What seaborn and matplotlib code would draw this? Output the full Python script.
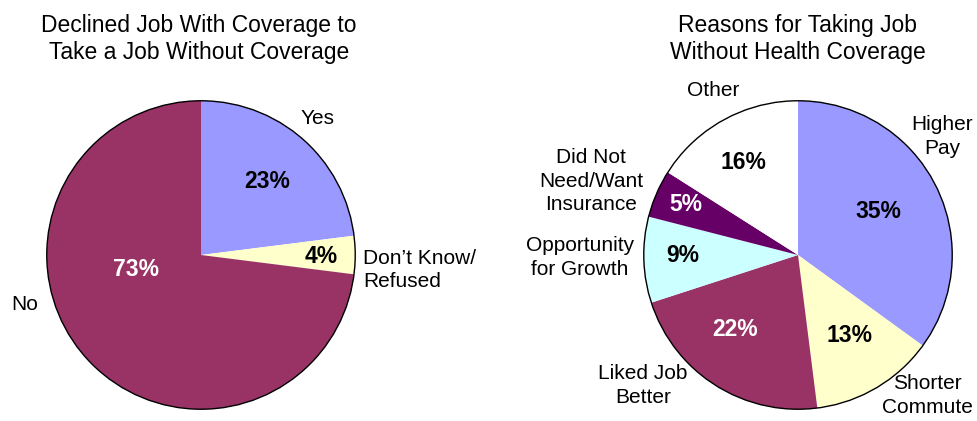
import matplotlib
matplotlib.use("Agg")
import matplotlib.pyplot as plt
from matplotlib.patches import Circle
import seaborn as sns

sns.set_theme(style="white")
plt.rcParams["font.family"] = ["Liberation Sans", "DejaVu Sans"]
plt.rcParams["text.color"] = "black"

# Left pie: declined a job with coverage
left_title = "Declined Job With Coverage to\nTake a Job Without Coverage"
left_labels = ["Yes", "Don\u2019t Know/\nRefused", "No"]
left_values = [23, 4, 73]
left_colors = ["#9999FF", "#FFFFCC", "#993366"]
left_pct_colors = ["black", "black", "white"]

# Right pie: reasons for taking the job
right_title = "Reasons for Taking Job\nWithout Health Coverage"
right_labels = ["Higher\nPay", "Shorter\nCommute", "Liked Job\nBetter",
                "Opportunity\nfor Growth", "Did Not\nNeed/Want\nInsurance", "Other"]
right_values = [35, 13, 22, 9, 5, 16]
right_colors = ["#9999FF", "#FFFFCC", "#993366", "#CCFFFF", "#660066", "#FFFFFF"]
right_pct_colors = ["black", "black", "white", "black", "white", "black"]

# Text placement in pie units (centre at 0,0, radius 1)
left_pct_pos = [(0.426, 0.477), (0.78, -0.01), (-0.42, -0.097)]
left_lab_pos = [(0.755, 0.884, "center"), (1.05, -0.097, "left"), (-1.145, -0.32, "center")]
right_pct_pos = [(0.52, 0.284), (0.332, -0.52), (-0.411, -0.484),
                 (-0.745, -0.004), (-0.724, 0.329), (-0.351, 0.6)]
right_lab_pos = [(0.935, 0.768), (0.839, -0.91), (-1.006, -0.845),
                 (-1.416, -0.016), (-1.342, 0.477), (-0.552, 1.068)]

W, H = 977, 421
fig = plt.figure(figsize=(W / 100, H / 100), dpi=100)
fig.patch.set_facecolor("white")

R = 155


def make_axes(cx, cy):
    return fig.add_axes([(cx - R) / W, (H - cy - R) / H, 2 * R / W, 2 * R / H])


def draw_pie(ax, values, colors):
    ax.pie(values, colors=colors, startangle=90, counterclock=False,
           radius=1, wedgeprops=dict(linewidth=0, antialiased=True))
    ax.add_patch(Circle((0, 0), 1, fill=False, edgecolor="black", linewidth=1.0))
    ax.set_xlim(-1.005, 1.005)
    ax.set_ylim(-1.005, 1.005)
    ax.set_aspect("equal")
    ax.axis("off")


axl = make_axes(201, 255)
draw_pie(axl, left_values, left_colors)
for v, (x, y), c in zip(left_values, left_pct_pos, left_pct_colors):
    axl.text(x, y, f"{v}%", ha="center", va="center", fontsize=16.5,
             fontweight="bold", color=c)
for lab, (x, y, ha) in zip(left_labels, left_lab_pos):
    axl.text(x, y, lab, ha=ha, va="center", fontsize=15, color="black",
             multialignment="left" if ha == "left" else "center", linespacing=1.3)

axr = make_axes(798, 255)
draw_pie(axr, right_values, right_colors)
for v, (x, y), c in zip(right_values, right_pct_pos, right_pct_colors):
    axr.text(x, y, f"{v}%", ha="center", va="center", fontsize=16.5,
             fontweight="bold", color=c)
for lab, (x, y) in zip(right_labels, right_lab_pos):
    axr.text(x, y, lab, ha="center", va="center", fontsize=15, color="black",
             multialignment="center", linespacing=1.3)

fig.text(199 / W, 1 - 39 / H, left_title, ha="center", va="center",
         fontsize=16.5, linespacing=1.25, color="black")
fig.text(798 / W, 1 - 39 / H, right_title, ha="center", va="center",
         fontsize=16.5, linespacing=1.25, color="black")

fig.savefig("out.png", dpi=100, facecolor="white")
